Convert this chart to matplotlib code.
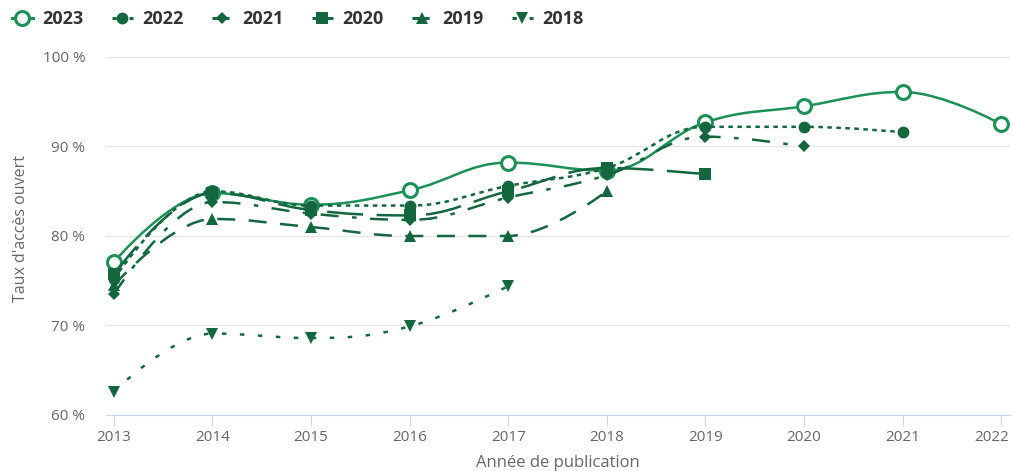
import matplotlib

matplotlib.use("Agg")
import matplotlib.pyplot as plt
from matplotlib.lines import Line2D
from matplotlib.patches import PathPatch
from matplotlib.path import Path
from matplotlib.transforms import ScaledTranslation

plt.rcParams["font.family"] = ["Open Sans", "DejaVu Sans"]

years = list(range(2013, 2023))
series_names = ["2023", "2022", "2021", "2020", "2019", "2018"]

rate_2023 = [77.1, 84.8, 83.5, 85.1, 88.2, 87.3, 92.7, 94.5, 96.1, 92.5]
rate_2022 = [75.2, 85.0, 83.4, 83.4, 85.6, 87.6, 92.2, 92.2, 91.6]
rate_2021 = [73.5, 83.8, 82.5, 81.8, 84.3, 86.8, 91.1, 90.0]
rate_2020 = [75.7, 84.8, 82.9, 82.3, 85.0, 87.6, 86.9]
rate_2019 = [74.5, 81.9, 81.0, 80.0, 80.0, 85.0]
rate_2018 = [62.6, 69.1, 68.6, 69.9, 74.4]

all_rates = [rate_2023, rate_2022, rate_2021, rate_2020, rate_2019, rate_2018]

LIGHT = "#1b9157"
DARK = "#14663f"
GREY = "#666666"
styles = [
    dict(color=LIGHT, marker="o", ms=10, mfc="white", mew=2.2, dash=None, lw=1.8),
    dict(color=DARK, marker="o", ms=8.5, mfc=DARK, mew=0, dash=(1, 1), lw=1.8),
    dict(color=DARK, marker="D", ms=6.5, mfc=DARK, mew=0, dash=(4, 3, 1, 3), lw=1.8),
    dict(color=DARK, marker="s", ms=8.5, mfc=DARK, mew=0, dash=(8, 3), lw=1.8),
    dict(color=DARK, marker="^", ms=8.5, mfc=DARK, mew=0, dash=(4, 3), lw=1.8),
    dict(color=DARK, marker="v", ms=8.5, mfc=DARK, mew=0, dash=(1, 3), lw=1.8),
]


def spline_path(xs, ys, smoothing=1.5):
    """Cubic bezier path through the points (Highcharts-like spline)."""
    n = len(xs)
    denom = smoothing + 1
    left = [(x, y) for x, y in zip(xs, ys)]
    right = [(x, y) for x, y in zip(xs, ys)]
    for i in range(1, n - 1):
        px, py = xs[i], ys[i]
        lx, ly = xs[i - 1], ys[i - 1]
        nx, ny = xs[i + 1], ys[i + 1]
        lcx = (smoothing * px + lx) / denom
        lcy = (smoothing * py + ly) / denom
        rcx = (smoothing * px + nx) / denom
        rcy = (smoothing * py + ny) / denom
        if rcx != lcx:
            corr = (rcy - lcy) * (rcx - px) / (rcx - lcx) + py - rcy
            lcy += corr
            rcy += corr
        if lcy > ly and lcy > py:
            lcy = max(ly, py)
            rcy = 2 * py - lcy
        elif lcy < ly and lcy < py:
            lcy = min(ly, py)
            rcy = 2 * py - lcy
        if rcy > ny and rcy > py:
            rcy = max(ny, py)
            lcy = 2 * py - rcy
        elif rcy < ny and rcy < py:
            rcy = min(ny, py)
            lcy = 2 * py - rcy
        left[i] = (lcx, lcy)
        right[i] = (rcx, rcy)
    verts = [(xs[0], ys[0])]
    codes = [Path.MOVETO]
    for i in range(1, n):
        verts += [right[i - 1], left[i], (xs[i], ys[i])]
        codes += [Path.CURVE4] * 3
    return Path(verts, codes)


fig = plt.figure(figsize=(10.13, 4.71), dpi=100)
ax = fig.add_axes([106 / 1013, 56 / 471, 904 / 1013, 358 / 471])

for k, (name, rates, st) in enumerate(zip(series_names, all_rates, styles)):
    xs = years[: len(rates)]
    patch = PathPatch(spline_path(xs, rates), fill=False, edgecolor=st["color"],
                      lw=st["lw"], zorder=2 + k, capstyle="butt")
    if st["dash"]:
        patch.set_linestyle((0, [d * st["lw"] for d in st["dash"]]))
    ax.add_patch(patch)
    ax.plot(xs, rates, ls="none", marker=st["marker"], ms=st["ms"], color=st["color"],
            mfc=st["mfc"], mec=st["color"], mew=st["mew"], zorder=2.5 + k)

ax.set_xlim(2012.92, 2022.09)
ax.set_ylim(60, 100)
ax.set_xticks(years)
ax.set_yticks([60, 70, 80, 90, 100])
ax.set_yticklabels([f"{v} %" for v in [60, 70, 80, 90, 100]])
ax.grid(axis="y", color="#e6e6e6", lw=1)
ax.set_axisbelow(True)
for s in ["top", "right", "left"]:
    ax.spines[s].set_visible(False)
ax.spines["bottom"].set_color("#ccd6eb")
ax.tick_params(axis="x", length=8, color="#ccd6eb", labelcolor=GREY, labelsize=11, pad=3)
ax.tick_params(axis="y", length=0, labelcolor=GREY, labelsize=11, pad=15)

# last label is pushed inside the figure, as in the original
last = ax.get_xticklabels()[-1]
last.set_ha("right")
last.set_transform(last.get_transform() + ScaledTranslation(8 / 100, 0, fig.dpi_scale_trans))

fig.text(21 / 1013, 1 - 229 / 471, "Taux d'accès ouvert", rotation=90, ha="center",
         va="center", color=GREY, fontsize=11.5)
fig.text(558 / 1013, 1 - 463 / 471, "Année de publication", ha="center", va="center",
         color=GREY, fontsize=12)

handles = []
for name, st in zip(series_names, styles):
    h = Line2D([], [], color=st["color"], lw=2.2, marker=st["marker"], ms=st["ms"],
               mfc=st["mfc"], mec=st["color"], mew=st["mew"])
    if st["dash"]:
        h.set_dashes([d * 1.4 for d in st["dash"]])
    handles.append(h)
fig.legend(handles, series_names, loc="upper left", bbox_to_anchor=(12 / 1013, 1 - 10 / 471),
           ncol=6, frameon=False, borderpad=0, borderaxespad=0, handlelength=1.15,
           handletextpad=0.55, columnspacing=1.55,
           prop={"weight": "bold", "size": 13}, labelcolor="#333333")

fig.savefig("out.png", dpi=100)
